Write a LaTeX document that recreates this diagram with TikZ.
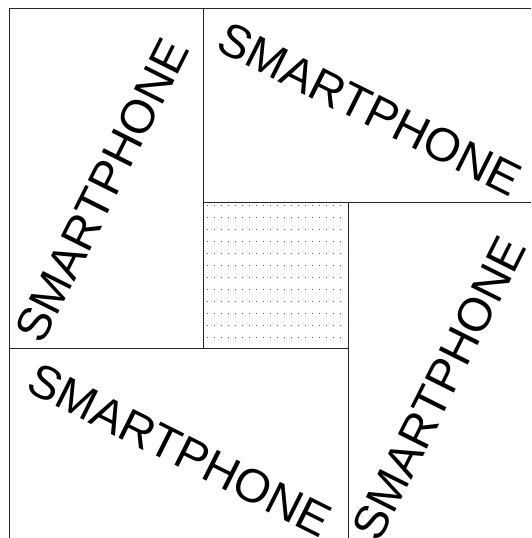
\documentclass[tikz,border=0pt]{standalone}
\usepackage{fontspec}
\setmainfont{Liberation Sans}
\begin{document}
\begin{tikzpicture}[x=1pt,y=-1pt,
	panel/.style={draw=black!85, line width=0.8pt},
	brand/.style={inner sep=0pt, font=\fontsize{47}{48}\selectfont},
	dotrow/.style={draw=black!65, line width=1pt, dash pattern=on 1.2pt off 5.8pt}
	]
	\useasboundingbox (0,0) rectangle (531,538);
	% panels
	\draw[panel] (9,538) -- (9,8) -- (531,8);
	\draw[panel] (203,8) -- (203,348);
	\draw[panel] (9,348) -- (348,348);
	\draw[panel] (348,202) -- (348,538);
	\draw[panel] (203,202) -- (531,202);
	% dotted centre
	\foreach \y in {205,217,...,341}
		\draw[dotrow] (207,\y) -- (347,\y);
	% labels
	\node[brand, rotate=63.43] (tl) at (102,190) {SMARTPHONE};
	\node[brand, rotate=-26.57] (tr) at (370,109) {SMARTPHONE};
	\node[brand, rotate=63.43] (br) at (439,388) {SMARTPHONE};
	\node[brand, rotate=-26.57] (bl) at (180,450) {SMARTPHONE};
\end{tikzpicture}
\end{document}
